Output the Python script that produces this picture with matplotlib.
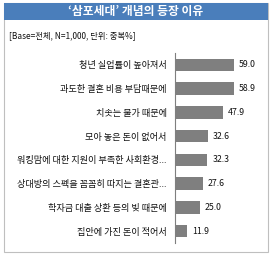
import matplotlib.pyplot as plt
from matplotlib.patches import Rectangle

plt.rcParams['font.family'] = ['Noto Sans CJK KR', 'DejaVu Sans']

title = '‘삼포세대’ 개념의 등장 이유'
note = '[Base=전체, N=1,000, 단위: 중복%]'
reasons = [
    '청년 실업률이 높아져서',
    '과도한 결혼 비용 부담때문에',
    '치솟는 물가 때문에',
    '모아 놓은 돈이 없어서',
    '워킹맘에 대한 지원이 부족한 사회환경...',
    '상대방의 스펙을 꼼꼼히 따지는 결혼관...',
    '학자금 대출 상환 등의 빚 때문에',
    '집안에 가진 돈이 적어서',
]
values = [59.0, 58.9, 47.9, 32.6, 32.3, 27.6, 25.0, 11.9]


def main():
    W, H = 272, 257
    fig = plt.figure(figsize=(W / 100, H / 100), dpi=100)

    # outer frame and blue header
    fig.patches.append(Rectangle((4 / W, 1 - 252 / H), 264 / W, 249 / H, transform=fig.transFigure,
                                 facecolor='white', edgecolor='#bfbfbf', linewidth=0.8, zorder=-2))
    fig.patches.append(Rectangle((4 / W, 1 - 20 / H), 264 / W, 17 / H, transform=fig.transFigure,
                                 facecolor='#4a7ebb', edgecolor='none', zorder=-1))
    fig.text(136 / W, 1 - 11.5 / H, title, color='white', fontsize=8.5, fontweight='bold',
             ha='center', va='center')
    fig.text(9 / W, 1 - 36 / H, note, color='#111111', fontsize=6, ha='left', va='center')

    ax = fig.add_axes([175 / W, 1 - 243 / H, 84 / W, 190 / H])
    y = range(len(reasons))
    ax.barh(y, values, height=0.52, color='#7f7f7f')
    for yi, v in zip(y, values):
        ax.text(v + 5, yi, f'{v:.1f}', va='center', ha='left', fontsize=6.3, color='#111111')
    ax.set_yticks(list(y))
    ax.set_yticklabels(reasons, fontsize=6.6, color='#111111')
    ax.set_ylim(len(reasons) - 0.5, -0.5)
    ax.set_xlim(0, 84)
    ax.set_xticks([])
    ax.tick_params(axis='y', length=0, pad=6)
    for s in ['top', 'right', 'bottom']:
        ax.spines[s].set_visible(False)
    ax.spines['left'].set_color('#7f7f7f')
    ax.spines['left'].set_linewidth(0.8)
    ax.patch.set_alpha(0)

    plt.savefig('out.png', dpi=100)


if __name__ == '__main__':
    main()
